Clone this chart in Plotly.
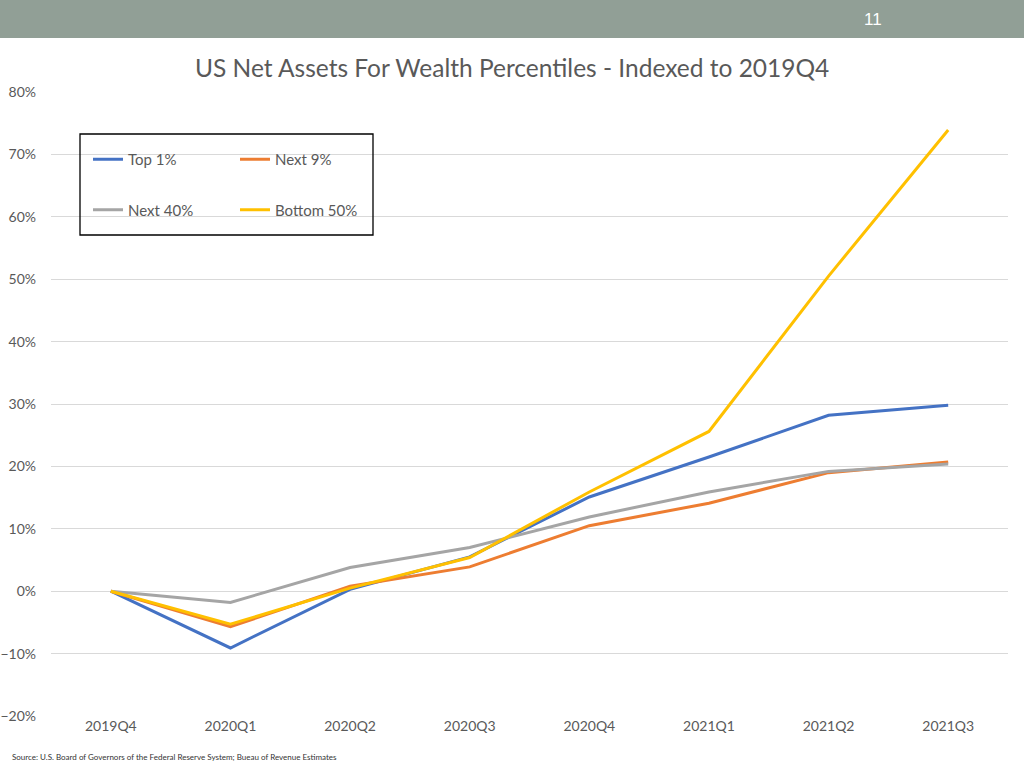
import plotly.graph_objects as go

categories = ["2019Q4", "2020Q1", "2020Q2", "2020Q3", "2020Q4", "2021Q1", "2021Q2", "2021Q3"]
top1 = [0.0, -9.1, 0.3, 5.5, 15.1, 21.5, 28.2, 29.8]
next9 = [0.0, -5.7, 0.8, 3.9, 10.5, 14.1, 19.0, 20.7]
next40 = [0.0, -1.8, 3.8, 7.0, 11.9, 15.9, 19.2, 20.4]
bottom50 = [0.0, -5.3, 0.5, 5.4, 15.9, 25.6, 50.5, 73.9]

series_names = ["Top 1%", "Next 9%", "Next 40%", "Bottom 50%"]
series_vals = [top1, next9, next40, bottom50]
colors = ["#4472C4", "#ED7D31", "#A5A5A5", "#FFC000"]
legends = ["legend", "legend2", "legend", "legend2"]
ranks = [1, 1, 2, 2]

W, H = 1024, 768
L, R, T, B = 51, 16, 92, 52
pw, ph = W - L - R, H - T - B

fig = go.Figure()
for name, vals, c, lg, rk in zip(series_names, series_vals, colors, legends, ranks):
    fig.add_trace(go.Scatter(
        x=categories, y=[v / 100 for v in vals], name=name, mode="lines",
        line=dict(color=c, width=3), legend=lg, legendgroup=name, legendrank=rk,
    ))

def px_x(x):
    return (x - L) / pw

def px_y(y):
    return 1 - (y - T) / ph

leg_common = dict(
    orientation="v", font=dict(family="Lato, Open Sans, sans-serif", size=15, color="#595959"),
    bgcolor="rgba(0,0,0,0)", borderwidth=0, tracegroupgap=28,
    xanchor="left", yanchor="top", itemwidth=30,
)
fig.update_layout(
    width=W, height=H,
    margin=dict(l=L, r=R, t=T, b=B, autoexpand=False),
    paper_bgcolor="white", plot_bgcolor="white",
    showlegend=True,
    legend=dict(x=px_x(88), y=px_y(143), **leg_common),
    legend2=dict(x=px_x(235), y=px_y(143), **leg_common),
    xaxis=dict(
        type="category", showgrid=False, showline=False, ticks="", automargin=False,
        tickfont=dict(family="Lato, Open Sans, sans-serif", size=14, color="#595959"),
        range=[-0.5, len(categories) - 0.5],
    ),
    yaxis=dict(
        range=[-0.2, 0.8], dtick=0.1, tickformat=".0%", automargin=False,
        showgrid=True, gridcolor="#D9D9D9", gridwidth=1,
        zeroline=True, zerolinecolor="#D9D9D9", zerolinewidth=1,
        showline=False, ticks="",
        tickfont=dict(family="Lato, Open Sans, sans-serif", size=14, color="#595959"),
        ticklabelstandoff=14,
    ),
    shapes=[
        dict(type="rect", xref="paper", yref="paper",
             x0=px_x(0), x1=px_x(W), y0=px_y(38), y1=px_y(0),
             fillcolor="#919F96", line=dict(width=0), layer="below"),
        dict(type="rect", xref="paper", yref="paper",
             x0=px_x(80), x1=px_x(373), y0=px_y(235), y1=px_y(134),
             fillcolor="rgba(0,0,0,0)", line=dict(color="black", width=1.3)),
    ],
    annotations=[
        dict(text="11", xref="paper", yref="paper", x=px_x(873), y=px_y(20),
             xanchor="center", yanchor="middle", showarrow=False,
             font=dict(family="Liberation Sans, Arial", size=17, color="white")),
        dict(text="US Net Assets For Wealth Percentiles - Indexed to 2019Q4",
             xref="paper", yref="paper", x=px_x(512), y=px_y(68),
             xanchor="center", yanchor="middle", showarrow=False,
             font=dict(family="Lato, Open Sans, sans-serif", size=24.5, color="#595959")),
        dict(text="Source: U.S. Board of Governors of the Federal Reserve System; Bueau of Revenue Estimates",
             xref="paper", yref="paper", x=px_x(10), y=px_y(757),
             xanchor="left", yanchor="middle", showarrow=False,
             font=dict(family="Lato, Open Sans, sans-serif", size=8, color="#333333")),
    ],
)

fig.write_html(
    "out.html",
    config={"displayModeBar": False},
    post_script="document.documentElement.style.margin='0';document.documentElement.style.overflow='hidden';"
                "document.body.style.margin='0';document.body.style.padding='0';document.body.style.overflow='hidden';",
)
